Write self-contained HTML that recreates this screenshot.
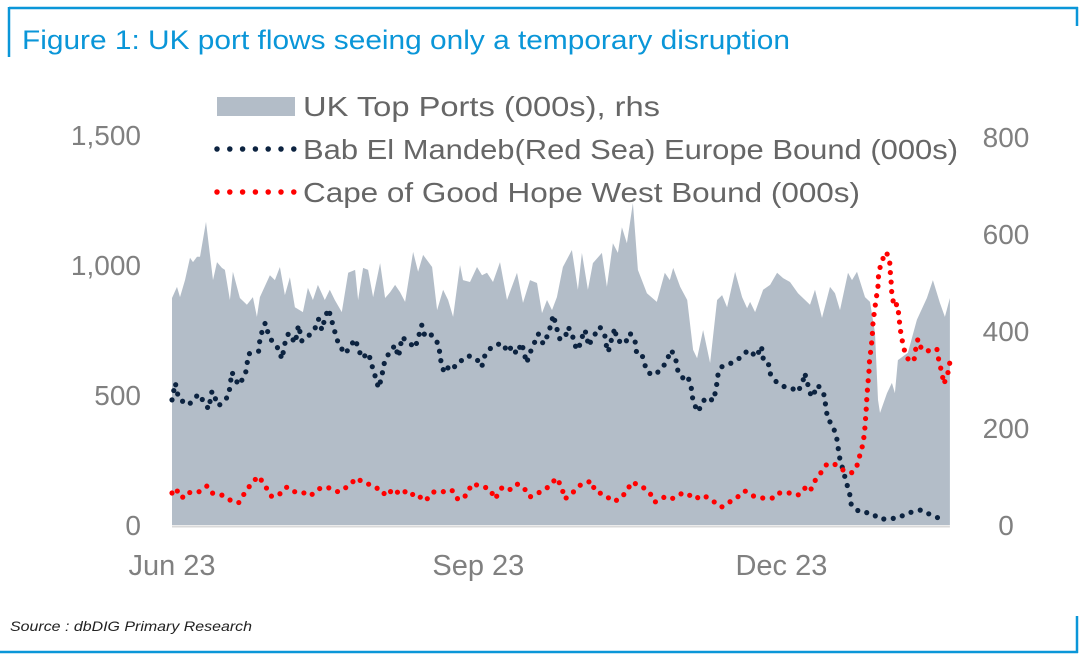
<!DOCTYPE html>
<html><head><meta charset="utf-8"><style>
html,body{margin:0;padding:0;background:#fff;}
svg{display:block;font-family:"Liberation Sans",Arial,sans-serif;}
</style></head><body>
<svg id="chart" width="1084" height="663" viewBox="0 0 1084 663">
<line x1="9" y1="8" x2="1078" y2="8" stroke="#0a96d8" stroke-width="2.5"/>
<line x1="9" y1="7" x2="9" y2="57" stroke="#0a96d8" stroke-width="2.5"/>
<line x1="1077" y1="7" x2="1077" y2="26" stroke="#0a96d8" stroke-width="2.5"/>
<line x1="0" y1="652" x2="1078" y2="652" stroke="#0a96d8" stroke-width="2.5"/>
<line x1="1077" y1="616" x2="1077" y2="653" stroke="#0a96d8" stroke-width="2.5"/>
<text x="22" y="49" font-size="27" fill="#0a96d8" textLength="768" lengthAdjust="spacingAndGlyphs">Figure 1: UK port flows seeing only a temporary disruption</text>
<text x="10" y="631" font-size="14" font-style="italic" fill="#222" textLength="242" lengthAdjust="spacingAndGlyphs">Source : dbDIG Primary Research</text>
<g id="plot"></g>
<g>
 <rect x="217" y="97" width="78" height="19" fill="#b3bdc8"/>
 <text x="303" y="116" font-size="28" fill="#666" textLength="357" lengthAdjust="spacingAndGlyphs">UK Top Ports (000s), rhs</text>
 <line x1="217" y1="149" x2="294" y2="149" stroke="#0c2340" stroke-width="5.5" stroke-linecap="round" stroke-dasharray="0 12.8"/>
 <text x="303" y="159" font-size="28" fill="#666" textLength="655" lengthAdjust="spacingAndGlyphs">Bab El Mandeb(Red Sea) Europe Bound (000s)</text>
 <line x1="217" y1="192" x2="294" y2="192" stroke="#ff0000" stroke-width="5.5" stroke-linecap="round" stroke-dasharray="0 12.8"/>
 <text x="303" y="202" font-size="28" fill="#666" textLength="557" lengthAdjust="spacingAndGlyphs">Cape of Good Hope West Bound (000s)</text>
</g>
</svg>
<script>
const leftTicks=[0,500,1000,1500];
const leftTickLabels=["0","500","1,000","1,500"];
const rightTicks=[0,200,400,600,800];
const rightTickLabels=["0","200","400","600","800"];
const xTickDays=[0,92,183];
const xTickLabels=["Jun 23","Sep 23","Dec 23"];
const portDays=[0,1.5,2.4,3.9,5.4,6.3,7.5,8.4,10.2,12.3,13.5,15,15.9,17.4,18.3,20.4,22.5,24.3,25.5,26.4,29.4,30.9,32.4,33.9,35.4,36.9,39.3,40.8,42.3,43.8,45.9,47.4,48.9,51,52.9,55,55.9,57.4,58.9,60.4,62.5,64,65.5,67,68.5,70,72.4,73.9,75.4,78.1,79.6,81.4,82.9,84.4,86.5,87.4,89.5,91.6,93.1,94.6,96.4,98.5,100.6,103.6,105.4,107.5,109.6,111.1,112.6,114.1,115.6,117.4,120.1,121.9,123.1,124.9,126.4,129.1,130.6,132.4,133.9,135.1,136.6,138.4,139.9,142.6,145.6,148,149.5,150.5,152.6,154.7,156.5,157.7,159.5,161.6,163.7,165.2,166.7,169.1,171.2,172.7,173.6,175.1,177.5,179.6,181.7,183.5,185.6,188,191.6,193.1,195.2,197.6,199.1,200.6,203,204.2,205.7,208.1,209.6,211.1,212,212.6,214.7,216.2,217.1,218,221,223.7,226.7,228.5,230.6,232.1,233.6];
const portValues=[468,491,470,505,551,542,553,553,625,505,542,530,526,464,522,468,454,470,429,470,515,505,532,474,511,449,439,489,464,495,464,485,464,439,520,526,464,530,526,470,540,468,480,495,480,460,563,522,557,532,443,485,464,429,536,505,501,532,515,520,501,542,464,520,458,505,499,437,464,443,470,532,567,485,561,485,540,561,491,581,561,614,581,664,526,478,460,520,505,530,491,464,361,344,402,334,464,474,449,522,470,447,460,439,485,495,520,509,501,478,454,485,427,491,478,443,520,505,522,470,460,396,258,231,272,293,272,340,355,423,468,505,458,429,468];
const babDays=[0,1,2,5,8,11,12,14,17,18,20,22,23,26,26.5,28,29,30,32,33,34,35,37,38,39,41,43,44,45,46,47,48,49,50,52,54,55,57,59,60,61,62,63,63.5,65,67,68,68.5,69,71,73,74,75,76,78,80,80.5,81,82,83.5,85,86.5,88,89.5,92,93,94,96,99,101,102,103.5,105,106.5,107.5,110,111.5,113,114,114.5,115.5,116.5,118,119,120.5,121.5,123,123.5,124.5,125,126.5,128.5,130,130.5,131,132,133,133.5,136,137.5,139,139.5,141,142,143,145,147.5,149,150,151.5,152,154,155,156,156.5,158,159.5,161,162.5,163.5,163.7,165,168,171,173,174.5,175.5,177,177.5,179,179.5,181.5,184,186,188,189.5,190,191,192,193,194,196,196.3,197,198,199.5,200,200.5,201.5,202.5,203.5,204,206.5,210,212.5,214.5,218,221,225,228,231];
const babValues=[481,546,485,462,504,446,515,458,496,588,538,577,658,669,723,777,731,708,677,638,704,738,700,769,708,727,758,792,750,800,831,785,738,696,658,696,715,642,662,615,573,527,569,615,658,692,646,677,723,704,681,723,769,723,731,696,654,608,585,619,608,627,646,650,631,608,654,685,700,665,688,658,700,623,662,735,696,735,781,808,758,715,719,762,719,673,704,750,738,688,723,762,727,685,665,715,758,712,696,738,712,665,662,615,585,577,608,646,673,627,585,558,569,523,473,435,477,492,477,527,569,608,623,646,673,658,646,688,642,631,585,550,531,527,512,554,585,538,492,512,538,496,454,404,392,346,300,258,212,165,119,77,50,46,23,23,27,46,58,38,23];
const capeDays=[0,1,3,4.5,6,8,10.5,12,15,18,20,22,24,26,28,30,33,34.5,37,39,41.5,44,45.5,47.5,50,53,55.5,57.5,60,62,63.5,65,66.5,69,71.5,73,76,78.5,81,84,86,88.5,90,93,95.5,97,99,101,103.5,105.5,107.5,110,111.5,113,115.5,117,118,120.5,123,126,127,130.5,132,134,136.5,138,141,143.5,145,148,150,152.5,154.5,157,159.5,162,165,167,169.5,172,174.5,177,181,182.5,185.5,188,190,191.5,193,195,196.5,198.5,201.5,204,205.5,206.5,207.5,208,208.5,208.7,209,209.3,209.5,210,210.3,210.5,211,211.5,212,212.2,213,214.5,215.5,215.7,216,216.2,217,217.7,218.3,218.6,219.2,220,221.3,222.8,223.4,224,225.2,228,229.7,230.3,231.2,231.8,233,233.6];
const capeValues=[123,142,104,127,123,127,150,123,115,92,85,127,162,188,150,108,123,146,127,127,112,138,146,142,127,150,181,162,154,138,119,138,115,138,112,123,92,127,127,135,96,115,158,150,138,100,142,131,158,146,108,123,135,146,181,146,100,127,158,169,131,112,92,96,127,165,150,123,88,108,100,119,123,100,115,96,69,85,104,131,112,104,104,123,123,115,142,127,169,204,231,238,212,200,219,265,312,358,450,500,546,592,638,685,731,777,827,873,919,965,1012,1050,1019,973,927,881,838,850,808,762,715,669,631,631,681,715,673,669,677,631,585,542,585,627];

const NS='http://www.w3.org/2000/svg';
const x0=172, pxPerDay=3.33, yBase=525;
function xS(d){return x0+d*pxPerDay;}
function yL(v){return yBase-v*0.26;}
function yR(v){return yBase-v*0.485;}
const plot=document.getElementById('plot');
function mk(tag,attrs){const e=document.createElementNS(NS,tag);for(const k in attrs)e.setAttribute(k,attrs[k]);return e;}

let d='M'+xS(portDays[0])+','+yBase;
portDays.forEach((dy,i)=>{d+=' L'+xS(dy).toFixed(1)+','+yR(portValues[i]).toFixed(1);});
d+=' L'+xS(portDays[portDays.length-1]).toFixed(1)+','+yBase+' Z';
const area=mk('path',{d:d,fill:'#b3bdc8'});


plot.appendChild(area);
const base=mk('line',{x1:xS(0),x2:xS(portDays[portDays.length-1]),y1:yBase+1.5,y2:yBase+1.5,stroke:'#d9d9d9','stroke-width':2});


plot.appendChild(base);

function dotted(days,vals,color,name){
  let p='';
  days.forEach((dy,i)=>{p+=(i?' L':'M')+xS(dy).toFixed(1)+','+yL(vals[i]).toFixed(1);});
  const e=mk('path',{d:p,fill:'none',stroke:color,'stroke-width':5.2,'stroke-linecap':'round','stroke-linejoin':'round','stroke-dasharray':'0 9.5'});
  
  
  plot.appendChild(e);
}
dotted(babDays,babValues,'#0c2340','bab-el-mandeb-series');
dotted(capeDays,capeValues,'#ff0000','cape-good-hope-series');

leftTicks.forEach((v,i)=>{
  const t=mk('text',{x:141,y:yL(v)+10,'font-size':28,fill:'#808080','text-anchor':'end'});
  t.textContent=leftTickLabels[i];
  
  
  plot.appendChild(t);
});
rightTicks.forEach((v,i)=>{
  const t=mk('text',{x:1006,y:yR(v)+10,'font-size':28,fill:'#808080','text-anchor':'middle'});
  t.textContent=rightTickLabels[i];
  
  
  plot.appendChild(t);
});
xTickDays.forEach((v,i)=>{
  const t=mk('text',{x:xS(v),y:575,'font-size':29,fill:'#808080','text-anchor':'middle'});
  t.textContent=xTickLabels[i];
  
  
  plot.appendChild(t);
});
</script>
</body></html>
